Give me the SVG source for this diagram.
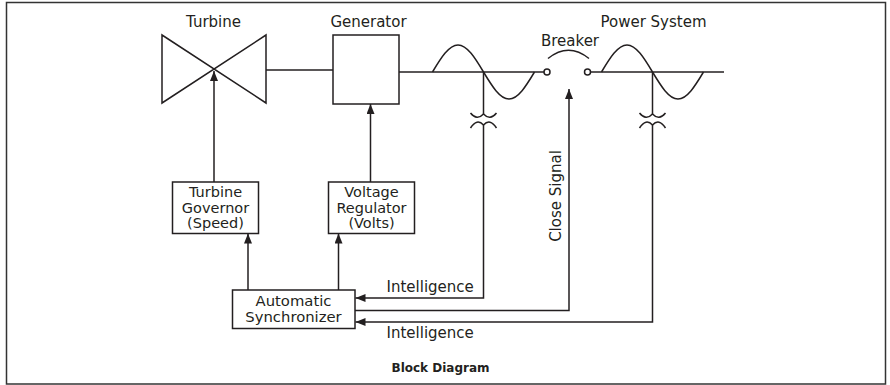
<svg xmlns="http://www.w3.org/2000/svg" width="890" height="385" viewBox="0 0 890 385">
<style>
.ln{fill:none;stroke:#231f20;stroke-width:1.5}
.bx{fill:#fff;stroke:#231f20;stroke-width:1.5}
.t{font-family:"DejaVu Sans",sans-serif;font-size:15px;fill:#231f20}
.tb{font-family:"DejaVu Sans",sans-serif;font-size:14.5px;fill:#231f20;text-anchor:middle}
.ts{font-family:"DejaVu Sans",sans-serif;font-size:14.8px;fill:#231f20;text-anchor:middle}
.c{text-anchor:middle}
</style>
<defs>
<marker id="ah" markerUnits="userSpaceOnUse" markerWidth="11" markerHeight="9" refX="10" refY="4" orient="auto">
<path d="M0,0 L10,4 L0,8 z" fill="#231f20"/>
</marker>
</defs>
<rect x="6.5" y="2.5" width="879" height="381.5" fill="#fff" stroke="#333" stroke-width="1.5"/>

<g id="turbine">
<path class="ln" d="M162,35 L266,103 L266,35 L162,103 Z"/>
<text class="t c" x="213.5" y="27">Turbine</text>
</g>

<g id="generator">
<rect class="bx" x="333" y="35" width="66" height="69"/>
<text class="t c" x="368.5" y="26.5">Generator</text>
</g>

<g id="generator-side-bus">
<path class="ln" d="M432.5,72 C440.8,58.2 448.8,45 458,45 C467.2,45 475.2,58.2 483.5,72 C491.8,85.8 499.8,99 509,99 C518.2,99 526.2,85.8 534.5,72"/>
</g>

<g id="breaker">
<circle cx="547" cy="72" r="3" fill="#fff" stroke="#231f20" stroke-width="1.5"/>
<circle cx="587.5" cy="72" r="3" fill="#fff" stroke="#231f20" stroke-width="1.5"/>
<path class="ln" d="M548,58.5 Q568.5,42 589,58.5"/>
<text class="t c" x="570" y="45.5">Breaker</text>
</g>

<g id="power-system">
<path class="ln" d="M601.5,72 C609.8,58.2 617.8,45 627,45 C636.2,45 644.2,58.2 652.5,72 C660.8,85.8 668.8,99 678,99 C687.2,99 695.2,85.8 703.5,72"/>
<text class="t c" x="653.5" y="26.5">Power System</text>
</g>

<g id="pt-left">
<path class="ln" d="M470.5,113 Q477,121 483.5,114 Q490,121 496.5,113"/>
<path class="ln" d="M470.5,128 Q477,118 483.5,125 Q490,118 496.5,128"/>
</g>

<g id="pt-right">
<path class="ln" d="M639.5,113 Q646,121 652.5,114 Q659,121 665.5,113"/>
<path class="ln" d="M639.5,128 Q646,118 652.5,125 Q659,118 665.5,128"/>
</g>

<g id="governor">
<rect class="bx" x="172.5" y="182" width="86" height="51.5"/>
<text class="tb" x="215.5" y="197">Turbine</text>
<text class="tb" x="215.5" y="212.5">Governor</text>
<text class="tb" x="215.5" y="228">(Speed)</text>
</g>

<g id="regulator">
<rect class="bx" x="328.5" y="182" width="86" height="51.5"/>
<text class="tb" x="371.5" y="197">Voltage</text>
<text class="tb" x="371.5" y="212.5">Regulator</text>
<text class="tb" x="371.5" y="228">(Volts)</text>
</g>

<g id="synchronizer">
<rect class="bx" x="232.5" y="290" width="122.5" height="38.5"/>
<text class="ts" x="293.5" y="306">Automatic</text>
<text class="ts" x="293.5" y="322">Synchronizer</text>
</g>

<g id="connectors">
<line class="ln" x1="266" y1="70" x2="333" y2="70"/>
<line class="ln" x1="399" y1="72" x2="544" y2="72"/>
<line class="ln" x1="590.5" y1="72" x2="724" y2="72"/>
<line class="ln" x1="483.5" y1="72" x2="483.5" y2="114"/>
<line class="ln" x1="652.5" y1="72" x2="652.5" y2="114"/>
<line class="ln" x1="214" y1="182" x2="214" y2="71" marker-end="url(#ah)"/>
<line class="ln" x1="370.5" y1="182" x2="370.5" y2="104" marker-end="url(#ah)"/>
<line class="ln" x1="248" y1="290" x2="248" y2="233.5" marker-end="url(#ah)"/>
<line class="ln" x1="338.5" y1="290" x2="338.5" y2="233.5" marker-end="url(#ah)"/>
<path class="ln" d="M483.5,125 V298 H355.5" marker-end="url(#ah)"/>
<path class="ln" d="M355,310.5 H569 V89" marker-end="url(#ah)"/>
<path class="ln" d="M652.5,125 V322 H355.5" marker-end="url(#ah)"/>
<text class="t" x="386.5" y="291.5">Intelligence</text>
<text class="t" x="386.5" y="338">Intelligence</text>
<text class="t c" transform="translate(561,196) rotate(-90)">Close Signal</text>
</g>

<g id="title">
<text x="391.5" y="371.5" style="font-family:'DejaVu Sans',sans-serif;font-size:12px;font-weight:bold;fill:#231f20">Block Diagram</text>
</g>
</svg>
